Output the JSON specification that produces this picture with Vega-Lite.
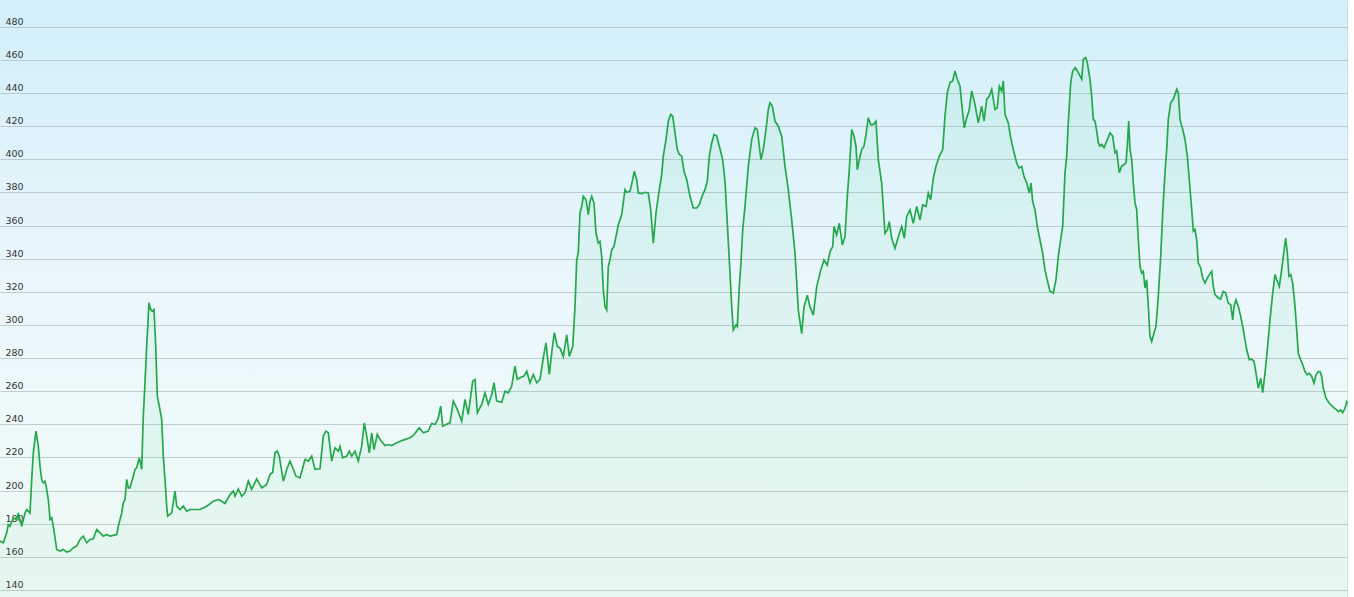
{
  "$schema": "https://vega.github.io/schema/vega-lite/v6.json",
  "width": 1348,
  "height": 597,
  "padding": 0,
  "autosize": {"type": "none"},
  "background": "#ffffff",
  "config": {
    "view": {
      "stroke": null,
      "fill": {"gradient": "linear", "x1": 0, "y1": 0, "x2": 0, "y2": 1, "stops": [
        {"offset": 0, "color": "#d2effa"},
        {"offset": 0.5, "color": "#ebf7fc"},
        {"offset": 1, "color": "#f0fbf6"}
      ]}
    }
  },
  "data": {"values": [
    {"t":0,"v":169.5},{"t":3.3,"v":168.5},{"t":6.7,"v":174.5},{"t":8.3,"v":179.5},{"t":10,"v":178.5},{"t":13.3,"v":183.5},{"t":16.7,"v":182.5},{"t":18.3,"v":186.5},{"t":21.7,"v":178.5},{"t":25,"v":186.5},{"t":26.7,"v":188.5},{"t":30,"v":186.5},{"t":31.7,"v":206.7},{"t":33.3,"v":222.8},{"t":36,"v":235.9},{"t":38.3,"v":226.8},{"t":40,"v":214.8},{"t":41.7,"v":206.7},{"t":43.3,"v":204.7},{"t":45,"v":205.7},{"t":46.7,"v":200.7},{"t":48.3,"v":194.6},{"t":50,"v":182.6},{"t":51.7,"v":183.6},{"t":53.3,"v":178.5},{"t":55,"v":171.5},{"t":56.7,"v":164.5},{"t":60,"v":163.5},{"t":63.3,"v":164.5},{"t":66.7,"v":162.9},{"t":70,"v":163.5},{"t":73.3,"v":165.5},{"t":76.7,"v":166.5},{"t":80,"v":170.5},{"t":83.3,"v":172.5},{"t":86.7,"v":168.5},{"t":90,"v":170.5},{"t":93.3,"v":170.9},{"t":96.7,"v":176.5},{"t":100,"v":174.5},{"t":103.3,"v":172.5},{"t":106.7,"v":173.5},{"t":110,"v":172.5},{"t":113.3,"v":173},{"t":116.7,"v":173.5},{"t":118.3,"v":178.5},{"t":121.7,"v":186.5},{"t":123.3,"v":192.6},{"t":125,"v":194.6},{"t":126.7,"v":206.7},{"t":128.3,"v":201.7},{"t":130,"v":201.7},{"t":133.3,"v":208.7},{"t":135,"v":212.8},{"t":136.7,"v":213.8},{"t":139.3,"v":219.8},{"t":141.7,"v":212.8},{"t":143.3,"v":245},{"t":145,"v":265.1},{"t":146.7,"v":287.2},{"t":149,"v":313.4},{"t":150.7,"v":309.3},{"t":152.3,"v":308.3},{"t":154,"v":309.3},{"t":155.7,"v":287.2},{"t":157.3,"v":257},{"t":159.3,"v":251},{"t":161.7,"v":243},{"t":163.3,"v":220.8},{"t":165,"v":206.7},{"t":166.7,"v":190.6},{"t":167.7,"v":184.6},{"t":170,"v":185.6},{"t":171.7,"v":186.6},{"t":175,"v":199.7},{"t":176.7,"v":190.6},{"t":180,"v":188.6},{"t":183.3,"v":190.6},{"t":186.7,"v":187.6},{"t":190,"v":188.6},{"t":193.3,"v":188.6},{"t":200,"v":188.6},{"t":206.7,"v":190.6},{"t":213.3,"v":193.6},{"t":218.3,"v":194.6},
    {"t":220,"v":194.2},{"t":225,"v":192.2},{"t":230,"v":197.6},{"t":233.3,"v":199.7},{"t":235,"v":196.6},{"t":238.3,"v":201},{"t":241.7,"v":196.6},{"t":245,"v":198.7},{"t":248.3,"v":205.7},{"t":251.7,"v":200.7},{"t":256.7,"v":207.1},{"t":261.7,"v":201.7},{"t":266.7,"v":203.7},{"t":270,"v":209.7},{"t":272.7,"v":211.1},{"t":275,"v":222.8},{"t":277.3,"v":223.8},{"t":279.3,"v":220.8},{"t":283.3,"v":205.7},{"t":286.7,"v":212.8},{"t":290,"v":217.8},{"t":292.7,"v":213.8},{"t":296,"v":208.7},{"t":300,"v":207.7},{"t":305,"v":218.8},{"t":308.3,"v":217.8},{"t":311.7,"v":220.8},{"t":315,"v":212.8},{"t":320,"v":213.2},{"t":323.3,"v":232.9},{"t":326,"v":235.9},{"t":328.3,"v":234.9},{"t":331.7,"v":217.8},{"t":335,"v":225.8},{"t":338.3,"v":223.8},{"t":340,"v":226.8},{"t":342.7,"v":219.8},{"t":346.7,"v":220.8},{"t":349.3,"v":223.8},{"t":351.7,"v":220.8},{"t":355,"v":223.8},{"t":358.3,"v":217.8},{"t":361.7,"v":226.8},{"t":364.3,"v":240.9},{"t":366.7,"v":232.9},{"t":369.3,"v":222.8},{"t":371.7,"v":234.9},{"t":374,"v":224.8},{"t":377.3,"v":233.9},{"t":380,"v":230.9},{"t":385,"v":227.2},{"t":388.3,"v":227.8},{"t":391.7,"v":227.2},{"t":396.7,"v":228.9},{"t":403.3,"v":230.5},{"t":410,"v":231.9},{"t":413.3,"v":233.3},{"t":416.7,"v":235.9},{"t":419.3,"v":237.9},{"t":423.3,"v":234.9},{"t":428.3,"v":235.9},{"t":431.7,"v":240.5},{"t":435,"v":239.9},{"t":438.3,"v":243.9},{"t":440.7,"v":251},{"t":442.7,"v":238.9},{"t":446,"v":239.9},{"t":450,"v":240.9},{"t":453.3,"v":254},{"t":457.3,"v":249},{"t":461.7,"v":241.9},{"t":465,"v":255},{"t":468.3,"v":246},{"t":472.7,"v":266.1},{"t":475,"v":267.1},{"t":477.3,"v":247},{"t":481.7,"v":252},{"t":485,"v":259},{"t":488.3,"v":252},{"t":491.7,"v":258},{"t":494,"v":265.1},{"t":496.7,"v":254},{"t":501.7,"v":253.4},{"t":505,"v":260},{"t":508.3,"v":259},{"t":511.7,"v":263.1},{"t":515,"v":275.1},{"t":517.3,"v":267.1},{"t":520,"v":268.1},{"t":524,"v":269.1},{"t":526.7,"v":272.1},{"t":530,"v":265.1},{"t":533.3,"v":270.1},{"t":536.7,"v":265.1},{"t":540,"v":267.1},{"t":543.3,"v":280.2},{"t":546,"v":289.2},{"t":549.3,"v":270.1},{"t":551.7,"v":283.2},{"t":554.3,"v":295.3},{"t":557.3,"v":287.2},
    {"t":560,"v":286},{"t":563.3,"v":281},{"t":566.7,"v":294},{"t":569.3,"v":281},{"t":572.7,"v":287},{"t":575,"v":311},{"t":576.7,"v":339},{"t":578.3,"v":344},{"t":580,"v":367.6},{"t":581.7,"v":371.6},{"t":583.3,"v":377.7},{"t":586,"v":375.6},{"t":588.3,"v":366.6},{"t":590,"v":374.6},{"t":591.7,"v":377.7},{"t":594,"v":373.6},{"t":596,"v":355.5},{"t":598.3,"v":349.4},{"t":600,"v":350.4},{"t":601.7,"v":341.4},{"t":603.3,"v":321.2},{"t":605,"v":311.1},{"t":606.7,"v":309.1},{"t":608.3,"v":335.3},{"t":610,"v":339.4},{"t":611.7,"v":345.4},{"t":614,"v":347.4},{"t":616.7,"v":355.5},{"t":618.3,"v":360.5},{"t":621.7,"v":366.6},{"t":625,"v":381.7},{"t":626.7,"v":380.1},{"t":630,"v":380.7},{"t":632.7,"v":387.7},{"t":634.3,"v":392.8},{"t":636.7,"v":387.7},{"t":638.3,"v":379.7},{"t":641.7,"v":379.3},{"t":645,"v":380.1},{"t":648.3,"v":379.7},{"t":650.7,"v":369.6},{"t":653.3,"v":349.4},{"t":656,"v":367.6},{"t":658.3,"v":377.7},{"t":661.7,"v":390.8},{"t":663.3,"v":401.9},{"t":666,"v":411.9},{"t":668.3,"v":423},{"t":670.7,"v":427.1},{"t":672.7,"v":426},{"t":675,"v":416},{"t":677.3,"v":405.9},{"t":679.3,"v":402.9},{"t":681.7,"v":401.9},{"t":684,"v":392.8},{"t":686.7,"v":387.7},{"t":690,"v":377.7},{"t":693.3,"v":370.6},{"t":696.7,"v":370.6},{"t":699.3,"v":372.6},{"t":702.7,"v":378.7},{"t":705,"v":381.7},{"t":707.3,"v":386.7},{"t":709.3,"v":401.9},{"t":711.7,"v":409.9},{"t":714,"v":415},{"t":716.7,"v":414},{"t":719.3,"v":407.9},{"t":722.7,"v":399.8},{"t":725,"v":386.7},{"t":727.3,"v":361.5},{"t":730,"v":331.3},{"t":731.7,"v":311.1},{"t":733.3,"v":297},{"t":736,"v":300},{"t":737.3,"v":299},{"t":739.3,"v":323.2},{"t":740.7,"v":335.3},{"t":742.7,"v":357.5},{"t":745,"v":371.6},{"t":748.3,"v":395.8},{"t":751.7,"v":411.9},{"t":755,"v":419},{"t":757.3,"v":418},{"t":759.3,"v":407.9},{"t":761,"v":399.8},{"t":763.3,"v":405.9},{"t":766,"v":418},{"t":768.3,"v":430.1},{"t":770,"v":434.1},{"t":772.3,"v":432.1},{"t":775,"v":423},{"t":778.3,"v":420},{"t":781.7,"v":414},{"t":785,"v":395.8},{"t":788.3,"v":381.7},{"t":791.7,"v":363.5},{"t":795,"v":343.4},{"t":798.3,"v":309.1},
    {"t":801.7,"v":294.7},{"t":804,"v":310.9},{"t":807.3,"v":318},{"t":810,"v":310.9},{"t":813.3,"v":305.9},{"t":816.7,"v":323},{"t":820.7,"v":333.1},{"t":824,"v":339.2},{"t":827.3,"v":336.2},{"t":830,"v":344.2},{"t":832.7,"v":347.3},{"t":834,"v":359.4},{"t":836.7,"v":354.3},{"t":839.3,"v":361.4},{"t":842.3,"v":348.3},{"t":845,"v":353.3},{"t":847.3,"v":377.6},{"t":849.3,"v":393.7},{"t":851.7,"v":418},{"t":854,"v":413.9},{"t":856,"v":407.9},{"t":857.3,"v":393.7},{"t":859.3,"v":399.8},{"t":861.7,"v":405.9},{"t":864,"v":407.9},{"t":866,"v":415},{"t":868.3,"v":425.1},{"t":870.7,"v":421},{"t":873.3,"v":421},{"t":876,"v":423},{"t":878.3,"v":399.8},{"t":881.7,"v":385.7},{"t":885,"v":355.4},{"t":887.3,"v":357.4},{"t":889.3,"v":362.4},{"t":891.7,"v":352.3},{"t":895,"v":346.3},{"t":898.3,"v":353.3},{"t":901.7,"v":359.4},{"t":904.3,"v":352.3},{"t":906.7,"v":365.5},{"t":910,"v":369.5},{"t":913.3,"v":361.4},{"t":916.7,"v":371.5},{"t":920,"v":363.4},{"t":922.7,"v":372.5},{"t":926,"v":371.5},{"t":928.3,"v":379.6},{"t":930.7,"v":375.6},{"t":933.3,"v":388.7},{"t":936,"v":395.8},{"t":939.3,"v":401.8},{"t":942.7,"v":405.9},{"t":945,"v":426.1},{"t":947.3,"v":440.2},{"t":950,"v":446.3},{"t":952.7,"v":447.3},{"t":955,"v":453.3},{"t":957.3,"v":448.3},{"t":960,"v":444.2},{"t":962.3,"v":430.1},{"t":964.3,"v":419},{"t":966.7,"v":425.1},{"t":969,"v":429.1},{"t":971.7,"v":441.2},{"t":975,"v":433.1},{"t":978.3,"v":422},{"t":981.7,"v":432.1},{"t":984,"v":423},{"t":986.7,"v":436.2},{"t":989.3,"v":438.2},{"t":991.7,"v":442.2},{"t":995,"v":430.1},{"t":997.3,"v":431.1},{"t":999.3,"v":444.2},{"t":1001.7,"v":441.2},{"t":1003.3,"v":447.3},{"t":1005,"v":427.1},{"t":1008.3,"v":422},{"t":1010.7,"v":412.9},{"t":1013.3,"v":405.9},{"t":1016.7,"v":397.8},{"t":1019,"v":394.7},{"t":1021.7,"v":395.8},{"t":1024,"v":389.7},{"t":1026.7,"v":385.7},{"t":1029.3,"v":379.6},{"t":1031,"v":385.7},{"t":1032.7,"v":374.5},{"t":1035,"v":369.5},{"t":1037.3,"v":359.4},{"t":1040,"v":351.3},{"t":1042.7,"v":343.2},{"t":1045,"v":333.1},{"t":1047.3,"v":327.1},
    {"t":1050,"v":320.3},{"t":1053.3,"v":319.3},{"t":1056,"v":327.3},{"t":1058.3,"v":341.4},{"t":1060.7,"v":351.5},{"t":1062.7,"v":359.6},{"t":1065,"v":391.9},{"t":1066.7,"v":401.9},{"t":1068.3,"v":422.1},{"t":1070.7,"v":446.3},{"t":1072.7,"v":453.3},{"t":1075.3,"v":455.4},{"t":1078.3,"v":452.3},{"t":1081.7,"v":448.3},{"t":1083.3,"v":460.4},{"t":1085.7,"v":461.4},{"t":1087.3,"v":458.4},{"t":1090,"v":448.3},{"t":1091.7,"v":438.2},{"t":1093.3,"v":424.1},{"t":1095,"v":423.1},{"t":1096.7,"v":417.1},{"t":1098.3,"v":410},{"t":1100,"v":408},{"t":1101.7,"v":409},{"t":1104,"v":407},{"t":1106.7,"v":411},{"t":1110,"v":416},{"t":1112.7,"v":414},{"t":1115,"v":404},{"t":1116.7,"v":405},{"t":1119.3,"v":391.9},{"t":1121.7,"v":395.9},{"t":1124,"v":396.9},{"t":1126,"v":397.9},{"t":1127.3,"v":408},{"t":1128.7,"v":423.1},{"t":1130,"v":406},{"t":1131.7,"v":399.9},{"t":1133.3,"v":385.8},{"t":1135,"v":373.7},{"t":1136.7,"v":369.7},{"t":1138.3,"v":351.5},{"t":1140,"v":335.4},{"t":1141.7,"v":331.4},{"t":1143.3,"v":332.4},{"t":1145,"v":322.3},{"t":1146.7,"v":327.3},{"t":1148.3,"v":311.2},{"t":1150,"v":293.1},{"t":1151.7,"v":290},{"t":1154,"v":295.1},{"t":1156,"v":299.1},{"t":1158.3,"v":317.3},{"t":1160.7,"v":341.4},{"t":1162.7,"v":367.7},{"t":1165,"v":391.9},{"t":1166.7,"v":406},{"t":1168.3,"v":424.1},{"t":1170.7,"v":434.2},{"t":1173.3,"v":436.2},{"t":1175,"v":439.2},{"t":1176.7,"v":442.3},{"t":1178.3,"v":440.2},{"t":1180,"v":424.1},{"t":1182.7,"v":418.1},{"t":1185,"v":412},{"t":1187.3,"v":401.9},{"t":1189.3,"v":387.8},{"t":1191.7,"v":369.7},{"t":1193.3,"v":356.6},{"t":1195,"v":357.6},{"t":1196.7,"v":351.5},{"t":1198.3,"v":337.4},{"t":1200.7,"v":334.4},{"t":1202.7,"v":328.3},{"t":1205,"v":325.3},{"t":1207.3,"v":328.3},{"t":1209.3,"v":330.4},{"t":1211.7,"v":332.4},{"t":1213.3,"v":323.3},{"t":1215,"v":318.3},{"t":1218.3,"v":316.3},{"t":1220.7,"v":315.6},{"t":1223.3,"v":320.3},{"t":1225.7,"v":319.3},{"t":1228.3,"v":313.2},{"t":1230.7,"v":312.2},{"t":1232.7,"v":303.1},{"t":1234,"v":311.2},{"t":1236,"v":315.2},{"t":1238.3,"v":311.2},{"t":1240.7,"v":305.2},{"t":1243.3,"v":297.1},{"t":1246.7,"v":285},{"t":1249.3,"v":279},{"t":1251.7,"v":279.4},{"t":1254,"v":278},{"t":1256,"v":270.9},{"t":1258.3,"v":261.8},{"t":1260.7,"v":267.9},{"t":1262.7,"v":259.2},{"t":1265,"v":270.9},{"t":1267.3,"v":285},{"t":1270,"v":303.1},{"t":1272.7,"v":319.3},{"t":1275,"v":330.4},{"t":1276.7,"v":327.3},{"t":1279.3,"v":323.3},{"t":1281.7,"v":333.4},{"t":1283.3,"v":341.4},{"t":1285.7,"v":352.5},{"t":1287.3,"v":343.4},{"t":1289,"v":329.4},{"t":1290.7,"v":330.4},{"t":1292.7,"v":325.3},{"t":1295,"v":311.2},{"t":1296.7,"v":297.1},{"t":1298.3,"v":282.9},{"t":1300.7,"v":279},{"t":1302.7,"v":276},{"t":1305,"v":271.9},{"t":1307.3,"v":269.9},{"t":1309.3,"v":270.9},{"t":1311.7,"v":268.9},{"t":1314,"v":264.8},{"t":1316,"v":269.9},{"t":1318.3,"v":271.9},{"t":1320,"v":271.9},{"t":1321.7,"v":268.9},{"t":1323.3,"v":261.8},{"t":1326,"v":255.8},{"t":1329.3,"v":252.7},{"t":1332.7,"v":250.7},{"t":1336,"v":249.1},{"t":1338.3,"v":247.7},{"t":1340.7,"v":248.7},{"t":1342.7,"v":247.1},{"t":1345,"v":249.7},{"t":1346.7,"v":253.7},{"t":1348,"v":252.7}
  ]},
  "encoding": {
    "x": {"field": "t", "type": "quantitative", "scale": {"domain": [0, 1348], "nice": false, "zero": false}, "axis": null}
  },
  "layer": [
    {
      "mark": {"type": "area", "clip": true, "interpolate": "linear",
        "color": {"gradient": "linear", "x1": 0, "y1": 0, "x2": 0, "y2": 1, "stops": [
          {"offset": 0, "color": "rgba(80,205,140,0.10)"},
          {"offset": 1, "color": "rgba(80,205,140,0.05)"}
        ]}
      },
      "encoding": {
        "y": {"field": "v", "type": "quantitative",
          "scale": {"domain": [135.77, 496.18], "nice": false, "zero": false},
          "axis": {
            "orient": "left", "values": [140,160,180,200,220,240,260,280,300,320,340,360,380,400,420,440,460,480],
            "title": null, "domain": false, "ticks": false,
            "labelAlign": "left", "labelPadding": -5, "labelBaseline": "alphabetic", "labelOffset": -2.5,
            "labelFont": "DejaVu Sans", "labelFontSize": 9.5, "labelColor": "#333333",
            "grid": true, "gridColor": "#a3afb3", "gridOpacity": 0.6, "gridWidth": 1,
            "zindex": 0
          }
        }
      }
    },
    {
      "mark": {"type": "line", "clip": true, "color": "#25a84b", "strokeWidth": 1.7, "interpolate": "linear"},
      "encoding": {
        "y": {"field": "v", "type": "quantitative",
          "axis": {"orient": "right", "title": null, "labels": false, "ticks": false, "grid": false,
            "domain": true, "domainColor": "#c5ced2", "domainWidth": 2}
        }
      }
    }
  ],
  "resolve": {"axis": {"y": "independent"}}
}
